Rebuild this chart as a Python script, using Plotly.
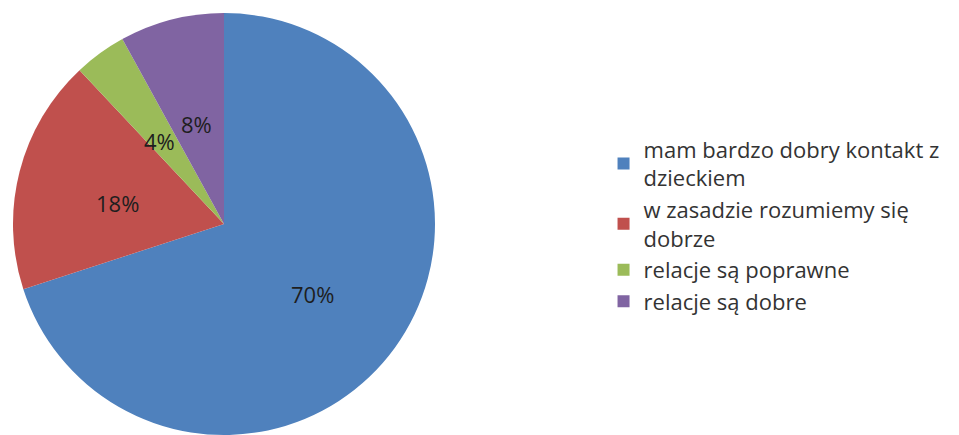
import math
import plotly.graph_objects as go

labels = ["mam bardzo dobry kontakt z<br>dzieckiem", "w zasadzie rozumiemy się<br>dobrze",
          "relacje są poprawne", "relacje są dobre"]
values = [70, 18, 4, 8]
colors = ["#4F81BD", "#C0504D", "#9BBB59", "#8064A2"]

W, H = 959, 435
# pie centre / radius in paper pixels
cx, cy, R = 216, 216, 211

fig = go.Figure()

fig.add_trace(
    go.Pie(labels=labels, values=values, sort=False, direction='clockwise', rotation=0,
           marker=dict(colors=colors, line=dict(width=0)),
           textinfo='none', hoverinfo='label+percent',
           domain=dict(x=[(cx - R) / W, (cx + R) / W], y=[1 - (cy + R) / H, 1 - (cy - R) / H]))
)

# percentage labels at mid radius, like the spreadsheet chart
total = sum(values)
start = 0.0
for v in values:
    mid = (start + v / 2) / total * 2 * math.pi
    start += v
    px = cx + 0.52 * R * math.sin(mid)
    py = cy - 0.52 * R * math.cos(mid)
    fig.add_annotation(x=px / W, y=1 - py / H, xref='paper', yref='paper',
                       xanchor='center', yanchor='middle',
                       text='%d%%' % round(v / total * 100), showarrow=False, yshift=-6,
                       font=dict(family='Open Sans', size=22, color='#1e1e1e'))

fig.update_layout(
    width=W, height=H,
    margin=dict(l=0, r=0, t=0, b=0),
    paper_bgcolor='white', plot_bgcolor='white',
    showlegend=True,
    legend=dict(x=0.621, y=0.5, xanchor='left', yanchor='middle',
                font=dict(family='Open Sans', size=22, color='#333333'),
                itemclick=False, itemdoubleclick=False, traceorder='normal'),
)

fig.write_html("out.html")
